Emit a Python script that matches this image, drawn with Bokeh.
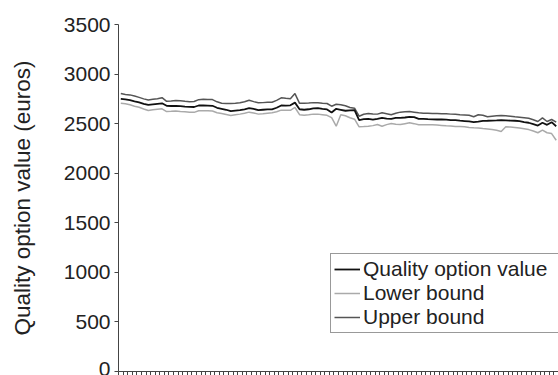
from bokeh.plotting import figure
from bokeh.models import Legend, LegendItem, FixedTicker, ColumnDataSource
from bokeh.embed import file_html
from bokeh.resources import INLINE

quality = [2750, 2745, 2737, 2725, 2715, 2700, 2690, 2695, 2700, 2705,
           2680, 2678, 2680, 2676, 2672, 2670, 2668, 2683, 2684, 2682,
           2680, 2660, 2650, 2640, 2626, 2632, 2636, 2645, 2656, 2648,
           2636, 2640, 2643, 2643, 2660, 2683, 2682, 2685, 2712, 2645,
           2640, 2645, 2655, 2656, 2648, 2643, 2613, 2650, 2640, 2630,
           2634, 2636, 2535, 2545, 2549, 2540, 2549, 2559, 2550, 2549,
           2558, 2559, 2562, 2569, 2565, 2549, 2548, 2545, 2543, 2542,
           2542, 2540, 2536, 2535, 2530, 2526, 2522, 2515, 2520, 2528,
           2529, 2531, 2532, 2535, 2533, 2530, 2529, 2525, 2515, 2509,
           2495, 2481, 2509, 2488, 2515, 2474]
upper = [2805, 2795, 2790, 2778, 2765, 2750, 2738, 2745, 2752, 2762,
         2725, 2728, 2733, 2730, 2725, 2722, 2723, 2742, 2745, 2744,
         2743, 2720, 2705, 2704, 2703, 2706, 2710, 2720, 2736, 2722,
         2710, 2712, 2715, 2716, 2735, 2760, 2755, 2751, 2803, 2705,
         2705, 2708, 2712, 2710, 2706, 2703, 2676, 2696, 2690, 2680,
         2663, 2656, 2575, 2595, 2602, 2598, 2596, 2610, 2600, 2589,
         2605, 2616, 2620, 2622, 2616, 2610, 2606, 2604, 2602, 2602,
         2600, 2599, 2596, 2594, 2590, 2588, 2584, 2570, 2590, 2585,
         2569, 2575, 2580, 2582, 2580, 2575, 2569, 2565, 2560, 2555,
         2540, 2522, 2559, 2522, 2542, 2515]
lower = [2705, 2700, 2690, 2676, 2665, 2648, 2632, 2640, 2645, 2650,
         2622, 2624, 2627, 2623, 2620, 2615, 2614, 2630, 2631, 2630,
         2628, 2610, 2602, 2592, 2582, 2590, 2596, 2605, 2616, 2608,
         2596, 2600, 2605, 2610, 2620, 2636, 2634, 2634, 2663, 2590,
         2585, 2590, 2596, 2596, 2590, 2584, 2560, 2474, 2590, 2580,
         2560, 2545, 2468, 2470, 2474, 2480, 2491, 2474, 2490, 2501,
         2495, 2491, 2500, 2509, 2500, 2488, 2488, 2488, 2488, 2486,
         2482, 2478, 2475, 2472, 2470, 2468, 2462, 2458, 2455, 2450,
         2446, 2440, 2434, 2421, 2468, 2465, 2462, 2455, 2448, 2440,
         2425, 2408, 2434, 2408, 2400, 2333]
y_ticks = [0, 500, 1000, 1500, 2000, 2500, 3000, 3500]

idx = list(range(len(quality)))
src = ColumnDataSource(dict(x=idx, q=quality, u=upper, l=lower))

FONT = "Liberation Sans"
p = figure(width=558, height=375, output_backend="svg", toolbar_location=None,
           x_range=(-0.5, 95.5), y_range=(0, 3500),
           min_border_left=118, min_border_right=0, min_border_top=24, min_border_bottom=3)
p.outline_line_color = None
p.xgrid.visible = False
p.ygrid.visible = False

r_u = p.line("x", "u", source=src, line_color="#555555", line_width=1.5)
r_l = p.line("x", "l", source=src, line_color="#aaaaaa", line_width=1.5)
r_q = p.line("x", "q", source=src, line_color="#111111", line_width=1.8)

p.yaxis.ticker = FixedTicker(ticks=y_ticks)
p.yaxis.minor_tick_line_color = None
p.yaxis.major_tick_out = 4
p.yaxis.major_tick_in = 0
p.yaxis.axis_line_color = "#444444"
p.yaxis.major_tick_line_color = "#444444"
p.yaxis.major_label_text_font = FONT
p.yaxis.major_label_text_font_size = "21px"
p.yaxis.major_label_text_color = "#222222"
p.yaxis.major_label_standoff = 4
p.yaxis.axis_label = "Quality option value (euros)"
p.yaxis.axis_label_text_font = FONT
p.yaxis.axis_label_text_font_size = "22.5px"
p.yaxis.axis_label_text_font_style = "normal"
p.yaxis.axis_label_text_color = "#222222"
p.yaxis.axis_label_standoff = 26

p.xaxis.ticker = FixedTicker(ticks=[i + 0.5 for i in range(-1, 96)])
p.xaxis.minor_tick_line_color = None
p.xaxis.major_tick_out = 4
p.xaxis.major_tick_in = 0
p.xaxis.axis_line_color = "#444444"
p.xaxis.major_tick_line_color = "#444444"
p.xaxis.major_label_text_font_size = "0px"
p.xaxis.major_label_standoff = 0

legend = Legend(items=[LegendItem(label="Quality option value", renderers=[r_q]),
                       LegendItem(label="Lower bound", renderers=[r_l]),
                       LegendItem(label="Upper bound", renderers=[r_u])],
                location=(212, 38), padding=3, spacing=0, margin=0,
                glyph_width=26, glyph_height=22, label_height=22, label_width=200,
                label_standoff=3,
                label_text_font=FONT, label_text_font_size="21px",
                label_text_color="#222222",
                border_line_color="#333333", border_line_width=1,
                background_fill_color="white", background_fill_alpha=1)
p.add_layout(legend)

open("out.html", "w").write(file_html(p, INLINE))
